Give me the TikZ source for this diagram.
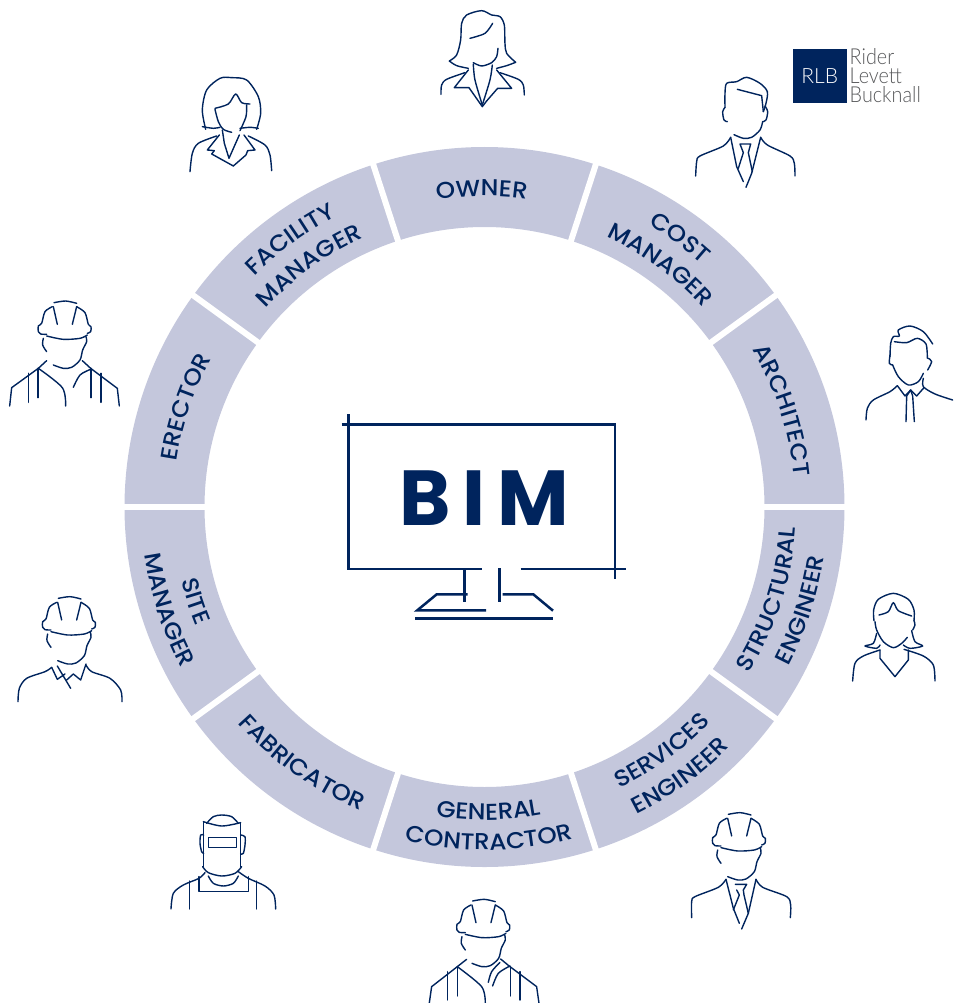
\documentclass[tikz,border=0pt]{standalone}
\usepackage{fontspec}
\usetikzlibrary{decorations.text}
\setmainfont{Poppins}
\newfontfamily\labelfont[FakeStretch=1.07]{Poppins Medium}
\newfontfamily\logofont[FakeStretch=0.9]{Lato Light}
\newfontfamily\rlbfont{Lato Light}
\definecolor{bimnavy}{HTML}{00245D}
\definecolor{bimring}{HTML}{C4C7DC}
\definecolor{logogray}{HTML}{58595B}
\newcommand{\ringfont}{\labelfont\fontsize{23}{23}\selectfont}
% centre angle, baseline radius, direction (1 ccw, -1 cw), text
\newcommand{\ringlabel}[4]{%
  \path[decorate, decoration={text along path, text={|\ringfont|#4},
        text align={center}, text color=bimnavy}]
    ({#1-#3*40}:#2) arc ({#1-#3*40}:{#1+#3*40}:#2);}
\tikzset{
  screenline/.style={draw=bimnavy, line width=2.5pt},
  sketch/.style={draw=bimnavy, line width=1.4pt, line cap=round, line join=round},
  crew/.style 2 args={shift={(#1,#2)}, scale=0.3333},
  hardhat/.pic={
    \begin{scope}[scale=0.3333]
    \draw[sketch] plot[smooth] coordinates {(-35,5) (0,0) (33,7)};
    \draw[sketch] plot[smooth] coordinates {(-40,17) (-62,32) (-72,67) (-82,75) (-82,92) (-75,99) (-57,100)};
    \draw[sketch] plot[smooth] coordinates {(-57,105) (-7,115) (43,112) (65,102)};
    \draw[sketch] plot[smooth] coordinates {(33,17) (58,35) (68,70) (76,77) (75,92) (65,97)};
    \draw[sketch] (-37,17) -- (-25,70) (33,17) -- (20,70);
    \draw[sketch] plot[smooth] coordinates {(-67,112) (-69,132) (-57,152)};
    \draw[sketch] plot[smooth] coordinates {(61,107) (63,122) (51,147) (43,177) (18,199) (-7,202) (-37,192)};
    \end{scope}
  },
}
\begin{document}
\begin{tikzpicture}[x=1pt, y=-1pt]
  \useasboundingbox (0,0) rectangle (953,1003);
  % Ring
  \begin{scope}[shift={(484.5,507)}, y=1pt]
    \foreach \a in {0,36,...,324} {
      \fill[bimring] (\a:280) arc (\a:\a+36:280) -- (\a+36:360) arc (\a+36:\a:360) -- cycle;
    }
    \foreach \a in {0,36,...,324} {
      \draw[white, line width=6pt] (\a:272) -- (\a:368);
    }
    \ringlabel{90.5}{311}{-1}{OWNER}
    \ringlabel{54}{326}{-1}{COST}
    \ringlabel{54}{296}{-1}{MANAGER}
    \ringlabel{18}{311}{-1}{ARCHITECT}
    \ringlabel{-18}{312}{1}{STRUCTURAL}
    \ringlabel{-18}{343}{1}{ENGINEER}
    \ringlabel{-54}{312}{1}{SERVICES}
    \ringlabel{-54}{343}{1}{ENGINEER}
    \ringlabel{-89.2}{313}{1}{GENERAL}
    \ringlabel{-89.2}{343}{1}{CONTRACTOR}
    \ringlabel{-125.5}{328}{1}{FABRICATOR}
    \ringlabel{-162}{312}{1}{SITE}
    \ringlabel{-162}{343}{1}{MANAGER}
    \ringlabel{161.5}{311}{-1}{ERECTOR}
    \ringlabel{126}{326}{-1}{FACILITY}
    \ringlabel{126}{295}{-1}{MANAGER}
  \end{scope}
  % Monitor
  \draw[screenline] (341.7,424.3) -- (615,424.3) -- (615,579);
  \draw[screenline] (348.3,414) -- (348.3,569) -- (482.3,569);
  \draw[screenline] (520.7,569) -- (626,569);
  \draw[screenline] (464.3,569) -- (464.3,601.7);
  \draw[screenline] (499.7,568.3) -- (499.7,601.7);
  \draw[screenline] (467.7,594.3) -- (436.7,594.3) -- (417.3,610.3) -- (486,610.3);
  \draw[screenline] (502.7,594.3) -- (533.3,594.3) -- (553,610.7);
  \draw[screenline] (415,618.7) -- (553,618.7);
  \node[font=\fontsize{78}{78}\bfseries\addfontfeature{LetterSpace=15}, text=bimnavy, inner sep=0pt] (bim) at (484,498) {BIM};
  % Logo
  \node[fill=bimnavy, text=white, minimum size=53.7pt, inner sep=0pt, font=\fontsize{21}{21}\selectfont\rlbfont] (rlb) at (819.8,75.8) {RLB};
  \node[anchor=north west, text=logogray, align=left, inner sep=0pt, font=\fontsize{22}{19.2}\selectfont\logofont] (rlbname) at (849.5,48) {Rider\\Levett\\Bucknall};
  % Owner
  \begin{scope}[crew={170}{0}]
    \draw[sketch] plot[smooth] coordinates {(838,183) (860,165) (872,120) (875,70) (890,45) (935,32) (965,45) (990,50) (1003,75) (1005,130) (1010,160) (1037,187)};
    \draw[sketch] plot[smooth] coordinates {(838,183) (860,197) (895,205)};
    \draw[sketch] plot[smooth] coordinates {(1037,187) (1010,197) (980,205)};
    \draw[sketch] plot[smooth] coordinates {(900,115) (945,100) (968,70)};
    \draw[sketch] plot[smooth] coordinates {(910,188) (935,198) (965,188) (980,170) (984,145)};
    \draw[sketch] plot[smooth] coordinates {(910,192) (915,240) (937,315)};
    \draw[sketch] plot[smooth] coordinates {(967,195) (960,240) (937,315)};
    \draw[sketch] (895,210) -- (853,263) -- (897,263) -- (937,320) -- (950,303);
    \draw[sketch] (950,303) -- (983,265) -- (1025,265) -- (980,210);
    \draw[sketch] plot[smooth] coordinates {(885,218) (830,238) (815,255) (813,283)};
    \draw[sketch] plot[smooth] coordinates {(990,218) (1045,238) (1060,255) (1063,285)};
  \end{scope}
  % Facility manager
  \begin{scope}[crew={170}{0}]
    \draw[sketch] plot[smooth] coordinates {(107,388) (97,330) (110,270) (150,235) (185,233) (230,240) (265,290) (272,340) (260,388)};
    \draw[sketch] plot[smooth] coordinates {(97,380) (130,385) (150,382)};
    \draw[sketch] plot[smooth] coordinates {(210,385) (240,382) (265,385)};
    \draw[sketch] plot[smooth] coordinates {(135,325) (175,312) (197,282) (215,308) (240,312)};
    \draw[sketch] plot[smooth] coordinates {(135,328) (145,365) (160,388) (185,397)};
    \draw[sketch] plot[smooth] coordinates {(230,315) (228,350) (210,392)};
    \draw[sketch] (157,390) -- (163,430) -- (177,475) -- (208,405);
    \draw[sketch] (148,405) -- (112,450) -- (133,452) -- (125,462) -- (190,498);
    \draw[sketch] (222,405) -- (255,450) -- (233,452) -- (228,465) -- (190,498);
    \draw[sketch] plot[smooth] coordinates {(140,408) (85,430) (67,460) (60,515)};
    \draw[sketch] plot[smooth] coordinates {(235,408) (285,435) (300,465) (305,512)};
  \end{scope}
  % Cost manager
  \begin{scope}[crew={680}{30}]
    \draw[sketch] plot[smooth] coordinates {(135,232) (135,190) (140,160) (170,155) (200,142) (240,160) (262,185) (258,220) (250,245)};
    \draw[sketch] (172,178) -- (245,197) -- (250,245);
    \draw[sketch] plot[smooth] coordinates {(135,232) (128,245) (132,270) (142,275)};
    \draw[sketch] plot[smooth] coordinates {(255,228) (263,245) (258,270) (248,275)};
    \draw[sketch] plot[smooth] coordinates {(248,275) (240,300) (215,322) (190,325) (162,314)};
    \draw[sketch] plot[smooth] coordinates {(152,322) (130,348) (60,378) (50,395) (47,438)};
    \draw[sketch] plot[smooth] coordinates {(242,322) (262,345) (330,378) (343,400) (345,438)};
    \draw[sketch] (152,322) -- (170,410) -- (190,455) (242,322) -- (215,430) -- (198,472);
    \draw[sketch] (180,342) -- (212,342) -- (205,368) -- (217,425) (180,342) -- (190,368) -- (175,415);
  \end{scope}
  % Architect
  \begin{scope}[crew={860}{320}]
    \draw[sketch] plot[smooth] coordinates {(90,110) (92,70) (100,50) (118,48) (115,30) (150,18) (190,35) (218,72)};
    \draw[sketch] plot[smooth] coordinates {(103,65) (140,68) (172,55) (198,72) (202,115)};
    \draw[sketch] plot[smooth] coordinates {(90,105) (88,130) (98,135)};
    \draw[sketch] plot[smooth] coordinates {(205,115) (215,125) (203,150)};
    \draw[sketch] plot[smooth] coordinates {(98,135) (115,170) (145,195) (175,185) (190,160)};
    \draw[sketch] plot[smooth] coordinates {(112,197) (90,215) (40,240) (22,265) (18,300)};
    \draw[sketch] plot[smooth] coordinates {(190,175) (190,200) (225,222) (278,240)};
    \draw[sketch] (112,197) -- (135,228) -- (152,210) -- (170,228) -- (192,203);
    \draw[sketch] (152,210) -- (140,228) -- (138,305) (152,210) -- (158,228) -- (163,305);
  \end{scope}
  % Structural engineer
  \begin{scope}[crew={680}{580}]
    \draw[sketch] plot[smooth] coordinates {(582,122) (581,90) (595,58) (640,40) (685,58) (702,90) (702,122)};
    \draw[sketch] plot[smooth] coordinates {(597,105) (625,95) (640,68) (655,92) (695,108)};
    \draw[sketch] plot[smooth] coordinates {(585,125) (590,150) (610,185) (640,203) (665,190) (682,172)};
    \draw[sketch] plot[smooth] coordinates {(702,122) (705,135) (698,150)};
    \draw[sketch] plot[smooth] coordinates {(590,160) (580,190) (555,198) (590,205) (600,195)};
    \draw[sketch] plot[smooth] coordinates {(695,152) (705,185) (728,198) (690,205) (670,195)};
    \draw[sketch] plot[smooth] coordinates {(600,210) (550,228) (525,250) (518,303)};
    \draw[sketch] plot[smooth] coordinates {(672,208) (730,228) (760,255) (765,303)};
    \draw[sketch] (600,210) -- (600,235) -- (645,290) -- (685,240) -- (685,210);
  \end{scope}
  % Services engineer
  \begin{scope}[crew={680}{580}]
    \pic at (180,698) {hardhat};
    \draw[sketch] plot[smooth] coordinates {(138,898) (115,922) (45,950) (35,965) (35,1013)};
    \draw[sketch] plot[smooth] coordinates {(228,898) (248,922) (320,950) (332,975) (331,1013)};
    \draw[sketch] (138,898) -- (160,985) -- (178,1030) (228,898) -- (205,1000) -- (185,1047);
    \draw[sketch] (166,913) -- (200,913) -- (190,930) -- (192,945) -- (205,1000);
    \draw[sketch] (170,930) -- (178,945) -- (160,990);
  \end{scope}
  % General contractor
  \begin{scope}[crew={150}{800}]
    \pic at (1003,298) {hardhat};
    \draw[sketch] (950,478) -- (922,500) -- (845,560) -- (838,609);
    \draw[sketch] plot[smooth] coordinates {(922,500) (995,560) (1006,609)};
    \draw[sketch] (893,515) -- (893,600) (923,500) -- (923,588);
    \draw[sketch] (1052,477) -- (1080,500) -- (1160,560) -- (1167,609);
    \draw[sketch] (1082,500) -- (1082,588) (1110,515) -- (1110,600);
    \draw[sketch] plot[smooth] coordinates {(1080,498) (1045,520) (1028,558)};
    \draw[sketch] plot[smooth] coordinates {(1050,487) (1025,515) (1015,547)};
  \end{scope}
  % Fabricator
  \begin{scope}[crew={150}{800}]
    \draw[sketch] plot[smooth] coordinates {(170,70) (190,50) (215,45) (245,50) (265,70)};
    \draw[sketch] plot[smooth] coordinates {(160,65) (215,78) (272,68)};
    \draw[sketch] (161,65) -- (161,200) (271,70) -- (271,200);
    \draw[sketch] plot[smooth] coordinates {(158,200) (175,218) (215,228) (255,220) (275,200)};
    \draw[sketch] plot[smooth] coordinates {(161,105) (152,105) (150,130) (155,155) (161,160)};
    \draw[sketch] plot[smooth] coordinates {(272,105) (285,110) (285,135) (280,160) (272,162)};
    \draw[sketch] (175,112) rectangle (260,142);
    \draw[sketch] plot[smooth] coordinates {(175,228) (190,250) (220,258) (250,250) (265,228)};
    \draw[sketch] (147,230) -- (147,275) -- (296,275) -- (296,230);
    \draw[sketch] plot[smooth] coordinates {(165,218) (147,235) (100,255) (70,280) (63,327)};
    \draw[sketch] plot[smooth] coordinates {(265,215) (295,235) (345,258) (372,285) (377,327)};
    \draw[sketch] (119,243) -- (119,327) (319,243) -- (319,327);
  \end{scope}
  % Site manager
  \begin{scope}[crew={0}{590}]
    \pic at (210,20) {hardhat};
    \draw[sketch] plot[smooth] coordinates {(155,232) (135,245) (80,265) (58,295) (54,335)};
    \draw[sketch] plot[smooth] coordinates {(258,225) (275,245) (330,265) (362,300) (366,335)};
    \draw[sketch] (155,232) -- (172,268) -- (195,252) (172,228) -- (212,295);
    \draw[sketch] (258,222) -- (242,270) -- (220,252) -- (200,270);
  \end{scope}
  % Erector
  \begin{scope}[crew={0}{290}]
    \pic at (197,33) {hardhat};
    \draw[sketch] (140,212) -- (115,235) -- (35,293) -- (29,348);
    \draw[sketch] plot[smooth] coordinates {(115,235) (187,293) (197,348)};
    \draw[sketch] (85,250) -- (85,337) (114,235) -- (114,323);
    \draw[sketch] (247,212) -- (272,235) -- (352,295) -- (358,348);
    \draw[sketch] plot[smooth] coordinates {(272,238) (240,255) (220,292)};
    \draw[sketch] (273,235) -- (273,323) (303,250) -- (303,337);
  \end{scope}
\end{tikzpicture}
\end{document}
